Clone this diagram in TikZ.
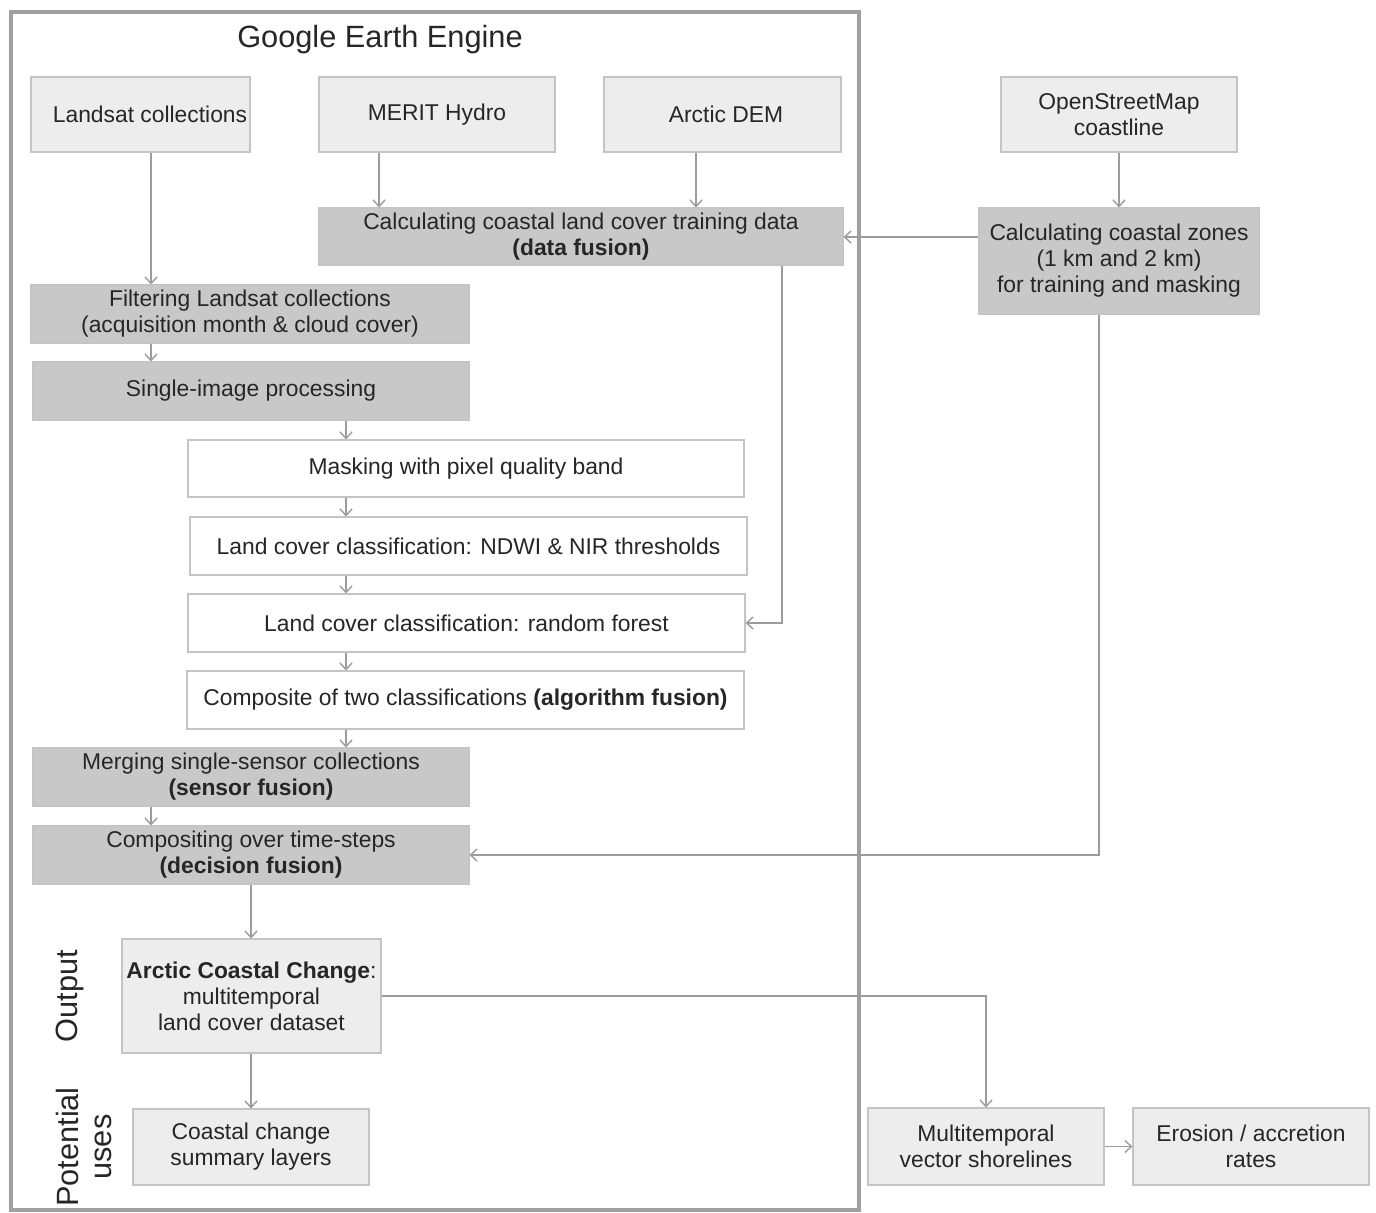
\documentclass[tikz,border=0pt]{standalone}
\usepackage{fontspec}
\setmainfont{Liberation Sans}
\usetikzlibrary{arrows.meta}
\definecolor{txtgray}{HTML}{262626}
\definecolor{lightfill}{HTML}{EDEDED}
\definecolor{darkfill}{HTML}{C8C8C8}
\definecolor{edgegray}{HTML}{C4C4C4}
\definecolor{linegray}{HTML}{9C9C9C}
\definecolor{framegray}{HTML}{A0A0A0}
\tikzset{
  base/.style 2 args={draw=edgegray, line width=0.6pt, text=txtgray, align=center, inner sep=0pt,
    minimum width=#1*0.02cm, minimum height=#2*0.02cm, font=\fontsize{13}{14.8}\selectfont},
  srcbox/.style 2 args={base={#1}{#2}, fill=lightfill},
  procbox/.style 2 args={base={#1}{#2}, fill=darkfill},
  stepbox/.style 2 args={base={#1}{#2}, fill=white},
  arr/.style={draw=linegray, line width=0.8pt, -{Straight Barb[length=1.3mm,width=2.4mm]}},
  lbl/.style={text=txtgray, align=center, font=\fontsize{17.5}{19}\selectfont}
}
\begin{document}
\begin{tikzpicture}[x=0.02cm,y=-0.02cm]
\useasboundingbox (0,0) rectangle (1376,1213);
\draw [framegray, line width=0.08cm] (11,12) rectangle (859,1210);
\node [lbl] (gee) at (380,40) {Google Earth Engine};
% inputs
\node [srcbox={219}{75}] (landsat) at (140.5,114.5) {\hspace*{0.38cm}Landsat collections};
\node [srcbox={236}{75}] (merit) at (437,114.5) {MERIT Hydro};
\node [srcbox={237}{75}] (dem) at (722.5,114.5) {\hspace*{0.14cm}Arctic DEM};
\node [srcbox={236}{75}] (osm) at (1119,114.5) {OpenStreetMap\\coastline};
% processing
\node [procbox={524}{57}] (train) at (581,236.5) {Calculating coastal land cover training data\\\textbf{(data fusion)}};
\node [procbox={280}{106}] (zones) at (1119,261) {Calculating coastal zones\\(1 km and 2 km)\\for training and masking};
\node [procbox={438}{58}] (filter) at (250,314) {Filtering Landsat collections\\(acquisition month \& cloud cover)};
\node [procbox={436}{58}] (single) at (251,391) {Single-image processing};
\node [stepbox={556}{57}] (mask) at (466,468.5) {Masking with pixel quality band};
\node [stepbox={557}{58}] (ndwi) at (468.5,546) {Land cover classification: NDWI \& NIR thresholds};
\node [stepbox={557}{58}] (rf) at (466.5,623) {Land cover classification: random forest};
\node [stepbox={557}{58}] (comp) at (465.5,700) {Composite of two classifications \textbf{(algorithm fusion)}};
\node [procbox={436}{58}] (merge) at (251,777) {Merging single-sensor collections\\\textbf{(sensor fusion)}};
\node [procbox={436}{58}] (decis) at (251,855) {Compositing over time-steps\\\textbf{(decision fusion)}};
% output and uses
\node [srcbox={259}{114}] (acc) at (251.5,996) {\textbf{Arctic Coastal Change}:\\multitemporal\\land cover dataset};
\node [srcbox={236}{76}] (summ) at (251,1147) {Coastal change\\summary layers};
\node [srcbox={236}{77}] (vect) at (986,1146.5) {Multitemporal\\vector shorelines};
\node [srcbox={236}{77}] (rates) at (1251,1146.5) {Erosion / accretion\\rates};
\node [lbl, rotate=90] (out) at (70,996) {Output};
\node [lbl, rotate=90] (uses) at (84,1147) {Potential\\uses};
% connectors
\draw [arr] (landsat.south -| 151,0) -- (filter.north -| 151,0);
\draw [arr] (merit.south -| 379,0) -- (train.north -| 379,0);
\draw [arr] (dem.south -| 696,0) -- (train.north -| 696,0);
\draw [arr] (osm.south) -- (zones.north);
\draw [arr] (zones.west |- 0,237) -- (train.east |- 0,237);
\draw [arr] (train.south -| 782,0) |- (rf.east);
\draw [arr] (filter.south -| 151,0) -- (single.north -| 151,0);
\draw [arr] (single.south -| 346,0) -- (mask.north -| 346,0);
\draw [arr] (mask.south -| 346,0) -- (ndwi.north -| 346,0);
\draw [arr] (ndwi.south -| 346,0) -- (rf.north -| 346,0);
\draw [arr] (rf.south -| 346,0) -- (comp.north -| 346,0);
\draw [arr] (comp.south -| 346,0) -- (merge.north -| 346,0);
\draw [arr] (merge.south -| 151,0) -- (decis.north -| 151,0);
\draw [arr] (zones.south -| 1099,0) |- (decis.east);
\draw [arr] (decis.south) -- (decis.south |- acc.north);
\draw [arr] (acc.south -| summ.north) -- (summ.north);
\draw [arr] (acc.east) -| (vect.north);
\draw [arr] (vect.east) -- (rates.west);
\end{tikzpicture}
\end{document}
